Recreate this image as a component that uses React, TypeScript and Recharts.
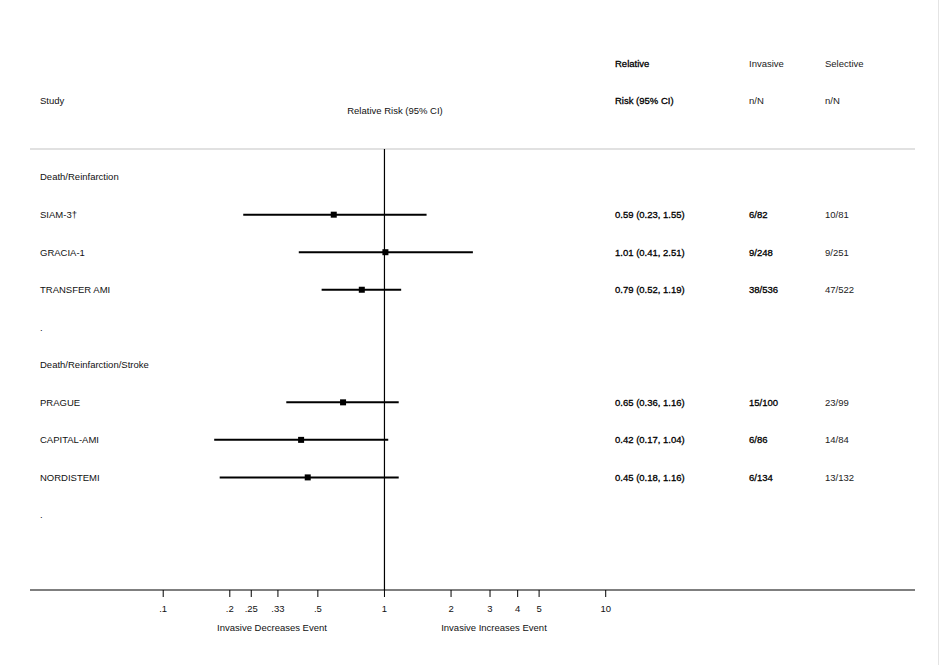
import React from 'react';
import {
  ComposedChart,
  Scatter,
  ErrorBar,
  XAxis,
  YAxis,
  ReferenceLine,
  Customized,
} from 'recharts';

const rowLabels = [
  'Death/Reinfarction',
  'SIAM-3†',
  'GRACIA-1',
  'TRANSFER AMI',
  '.',
  'Death/Reinfarction/Stroke',
  'PRAGUE',
  'CAPITAL-AMI',
  'NORDISTEMI',
  '.',
];
const riskRatio = [null, 0.59, 1.01, 0.79, null, null, 0.65, 0.42, 0.45, null];
const ciLow = [null, 0.23, 0.41, 0.52, null, null, 0.36, 0.17, 0.18, null];
const ciHigh = [null, 1.55, 2.51, 1.19, null, null, 1.16, 1.04, 1.16, null];
const invasiveN = ['', '6/82', '9/248', '38/536', '', '', '15/100', '6/86', '6/134', ''];
const selectiveN = ['', '10/81', '9/251', '47/522', '', '', '23/99', '14/84', '13/132', ''];
const xTicks = [0.1, 0.2, 0.25, 0.33, 0.5, 1, 2, 3, 4, 5, 10];
const xTickLabels = ['.1', '.2', '.25', '.33', '.5', '1', '2', '3', '4', '5', '10'];

const FONT = '"Liberation Sans", Arial, sans-serif';
const FS = 9.5;

const fmt = (v: number) => v.toFixed(2);

const rows = rowLabels.map((label, i) => ({
  x: 1,
  y: i,
  label,
  rrText:
    riskRatio[i] == null
      ? ''
      : `${fmt(riskRatio[i] as number)} (${fmt(ciLow[i] as number)}, ${fmt(ciHigh[i] as number)})`,
  inv: invasiveN[i],
  sel: selectiveN[i],
}));

const points = rowLabels
  .map((label, i) => ({ label, i }))
  .filter(({ i }) => riskRatio[i] != null)
  .map(({ label, i }) => ({
    label,
    x: riskRatio[i] as number,
    y: i,
    err: [(riskRatio[i] as number) - (ciLow[i] as number), (ciHigh[i] as number) - (riskRatio[i] as number)],
  }));

// semi-bold look: regular face plus a thin outline
const semi = { fill: '#000', stroke: '#000', strokeWidth: 0.3 };

const RowText = (props: any) => {
  const { cy, payload } = props;
  const t = { fontFamily: FONT, fontSize: FS, dy: '0.35em' } as any;
  return (
    <g>
      <text x={40} y={cy} fill="#111" {...t}>{payload.label}</text>
      <text x={615} y={cy} {...semi} {...t}>{payload.rrText}</text>
      <text x={749} y={cy} {...semi} {...t}>{payload.inv}</text>
      <text x={825} y={cy} fill="#222" {...t}>{payload.sel}</text>
    </g>
  );
};

const Marker = (props: any) => {
  const { cx, cy } = props;
  return <rect x={cx - 3} y={cy - 3} width={6} height={6} fill="#000" />;
};

const Headers = () => {
  const t = { fontFamily: FONT, fontSize: FS, dy: '0.35em' } as any;
  return (
    <g>
      <text x={40} y={101} fill="#111" {...t}>Study</text>
      <text x={395} y={111} fill="#111" textAnchor="middle" {...t}>Relative Risk (95% CI)</text>
      <text x={615} y={64} {...semi} {...t}>Relative</text>
      <text x={615} y={101} {...semi} {...t}>Risk (95% CI)</text>
      <text x={749} y={64} fill="#222" {...t}>Invasive</text>
      <text x={749} y={101} fill="#222" {...t}>n/N</text>
      <text x={825} y={64} fill="#222" {...t}>Selective</text>
      <text x={825} y={101} fill="#222" {...t}>n/N</text>
      <text x={272} y={628} fill="#111" textAnchor="middle" {...t}>Invasive Decreases Event</text>
      <text x={494} y={628} fill="#111" textAnchor="middle" {...t}>Invasive Increases Event</text>
      <line x1={938.5} y1={0} x2={938.5} y2={665} stroke="#e4e4e4" />
    </g>
  );
};

export default function App() {
  return (
    <div style={{ position: 'absolute', left: 0, top: 0, width: 939, height: 665, background: '#fff' }}>
      <ComposedChart
        width={939}
        height={665}
        margin={{ top: 149, right: 24, bottom: 0, left: 30 }}
      >
        <XAxis
          type="number"
          dataKey="x"
          scale="log"
          domain={[0.025, 250]}
          allowDataOverflow
          ticks={xTicks}
          tickFormatter={(v: number) => xTickLabels[xTicks.indexOf(v)] ?? String(v)}
          height={75}
          tickSize={7}
          tickMargin={8}
          axisLine={{ stroke: '#000', strokeWidth: 1.2 }}
          tickLine={{ stroke: '#000' }}
          tick={{ fill: '#111', fontSize: FS, fontFamily: FONT }}
        />
        <YAxis type="number" dataKey="y" domain={[-0.75, 11]} reversed hide allowDataOverflow />
        <ReferenceLine y={-0.75} stroke="#c4c4c4" strokeWidth={1.2} ifOverflow="extendDomain" />
        <ReferenceLine x={1} stroke="#000" strokeWidth={1.2} />
        <Scatter data={rows} shape={<RowText />} isAnimationActive={false} />
        <Scatter data={points} shape={<Marker />} isAnimationActive={false}>
          <ErrorBar dataKey="err" direction="x" width={0} stroke="#000" strokeWidth={2} />
        </Scatter>
        <Customized component={<Headers />} />
      </ComposedChart>
    </div>
  );
}
